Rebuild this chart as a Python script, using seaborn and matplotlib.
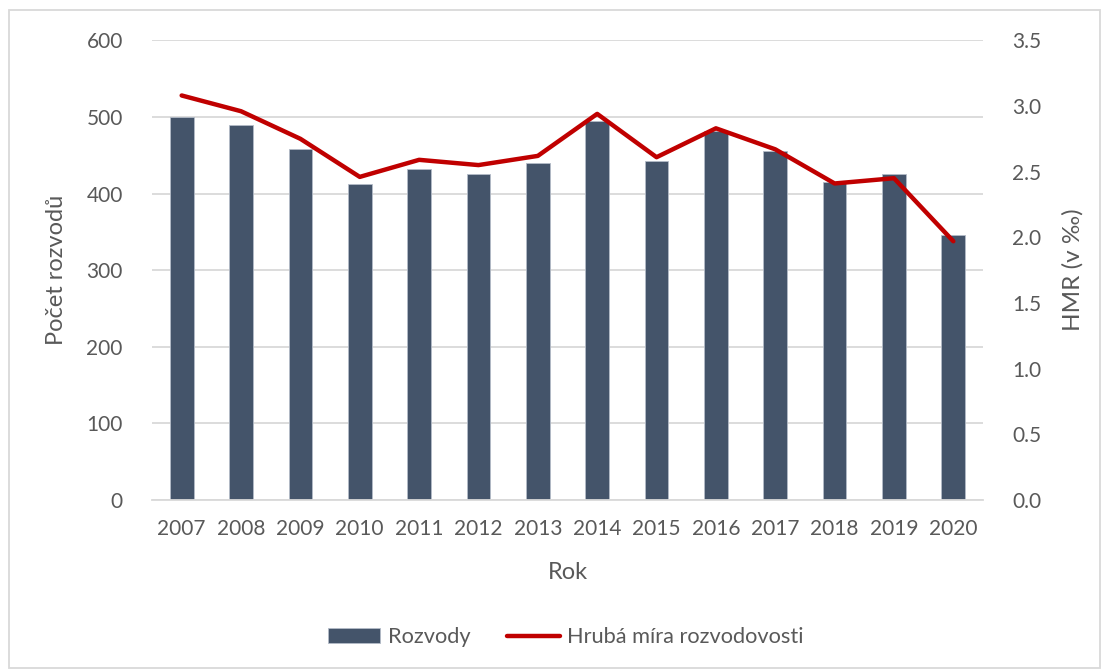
import numpy as np
import pandas as pd
import matplotlib
matplotlib.use("Agg")
import matplotlib.pyplot as plt
import matplotlib.patches as mpatches
from matplotlib.lines import Line2D
import seaborn as sns

# ── Data ──────────────────────────────────────────────────────────────────────
years = ["2007", "2008", "2009", "2010", "2011", "2012", "2013",
         "2014", "2015", "2016", "2017", "2018", "2019", "2020"]
rozvody = [500, 490, 458, 412, 432, 426, 440, 495, 442, 481, 455, 415, 425, 346]
hmr = [3.08, 2.96, 2.75, 2.46, 2.59, 2.55, 2.62, 2.94, 2.61, 2.83, 2.67, 2.41, 2.45, 1.97]

BAR_COLOR = "#44546A"
LINE_COLOR = "#C00000"
TEXT = "#595959"
GRID = "#D9D9D9"

sns.set_theme(style="white")
plt.rcParams.update({
    "font.family": ["Lato", "DejaVu Sans"],
    "text.color": TEXT,
    "axes.labelcolor": TEXT,
    "xtick.color": TEXT,
    "ytick.color": TEXT,
})

df = pd.DataFrame({"Rok": years, "Rozvody": rozvody, "HMR": hmr})

fig = plt.figure(figsize=(11.07, 6.72), dpi=100)
ax = fig.add_axes([0.1373, 0.256, 0.7507, 0.684])

sns.barplot(data=df, x="Rok", y="Rozvody", ax=ax, color=BAR_COLOR,
            saturation=1, width=0.4, edgecolor="#B4BCC8", linewidth=0.6)
ax.set_ylim(0, 600)
ax.set_yticks(np.arange(0, 601, 100))
ax.yaxis.grid(True, color=GRID, linewidth=1.3)
ax.set_axisbelow(True)
for s in ["top", "right", "left"]:
    ax.spines[s].set_visible(False)
ax.spines["bottom"].set_color(GRID)
ax.spines["bottom"].set_linewidth(1.3)
ax.tick_params(axis="y", length=0, labelsize=15, pad=21)
ax.tick_params(axis="x", length=0, labelsize=15, pad=14)
ax.set_xlabel("Rok", fontsize=17, labelpad=16)
ax.set_ylabel("Počet rozvodů", fontsize=17, labelpad=14)

ax2 = ax.twinx()
sns.lineplot(x=np.arange(len(years)), y=hmr, ax=ax2, color=LINE_COLOR,
             linewidth=3.2, solid_capstyle="round")
ax2.set_ylim(0, 3.5)
ax2.set_yticks(np.arange(0, 3.51, 0.5))
ax2.set_yticklabels([f"{v:.1f}" for v in np.arange(0, 3.51, 0.5)])
for s in ["top", "right", "left", "bottom"]:
    ax2.spines[s].set_visible(False)
ax2.tick_params(axis="y", length=0, labelsize=15, pad=21)
ax2.set_ylabel("HMR (v ‰)", fontsize=17.5, labelpad=15)
ax.set_xlim(-0.5, len(years) - 0.5)

handles = [mpatches.Patch(facecolor=BAR_COLOR, edgecolor="#B4BCC8", linewidth=0.6),
           Line2D([0], [0], color=LINE_COLOR, linewidth=3.2)]
fig.legend(handles, ["Rozvody", "Hrubá míra rozvodovosti"], loc="center",
           bbox_to_anchor=(0.511, 0.052), ncol=2, frameon=False, fontsize=15.7,
           handlelength=2.4, handleheight=0.65, handletextpad=0.35, columnspacing=1.7)

# chart border
fig.patches.append(mpatches.Rectangle((0.008, 0.006), 0.986, 0.979, transform=fig.transFigure,
                                      fill=False, edgecolor=GRID, linewidth=1.3))

fig.savefig("out.png", dpi=100, facecolor="white")
